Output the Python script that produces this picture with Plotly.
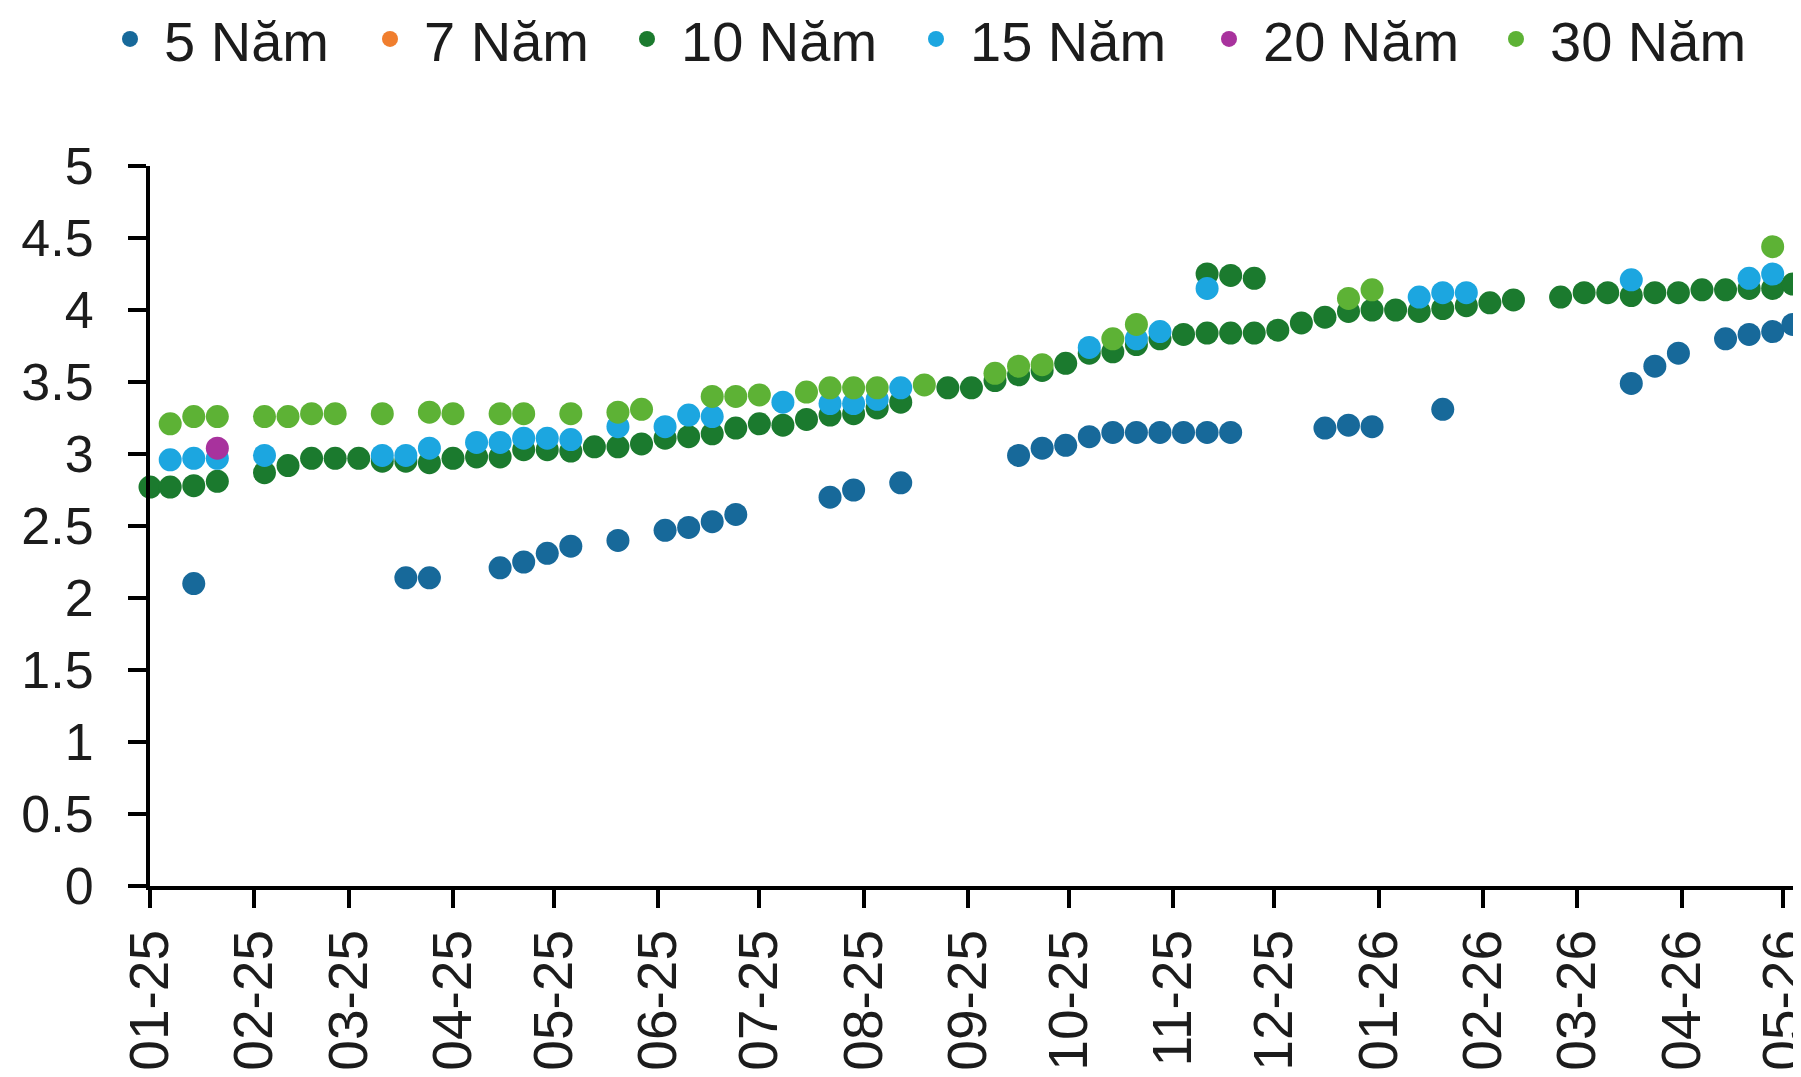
import plotly.graph_objects as go

dates = [
    "2025-01-01", "2025-01-07", "2025-01-14", "2025-01-21", "2025-01-28", "2025-02-04",
    "2025-02-11", "2025-02-18", "2025-02-25", "2025-03-04", "2025-03-11", "2025-03-18",
    "2025-03-25", "2025-04-01", "2025-04-08", "2025-04-15", "2025-04-22", "2025-04-29",
    "2025-05-06", "2025-05-13", "2025-05-20", "2025-05-27", "2025-06-03", "2025-06-10",
    "2025-06-17", "2025-06-24", "2025-07-01", "2025-07-08", "2025-07-15", "2025-07-22",
    "2025-07-29", "2025-08-05", "2025-08-12", "2025-08-19", "2025-08-26", "2025-09-02",
    "2025-09-09", "2025-09-16", "2025-09-23", "2025-09-30", "2025-10-07", "2025-10-14",
    "2025-10-21", "2025-10-28", "2025-11-04", "2025-11-11", "2025-11-18", "2025-11-25",
    "2025-12-02", "2025-12-09", "2025-12-16", "2025-12-23", "2025-12-30", "2026-01-06",
    "2026-01-13", "2026-01-20", "2026-01-27", "2026-02-03", "2026-02-10", "2026-02-17",
    "2026-02-24", "2026-03-03", "2026-03-10", "2026-03-17", "2026-03-24", "2026-03-31",
    "2026-04-07", "2026-04-14", "2026-04-21", "2026-04-28", "2026-05-04",
]

N = None
yield_5y = [
    N, N, 2.10, N, N, N, N, N, N, N, N, 2.14,
    2.14, N, N, 2.21, 2.25, 2.31, 2.36, N, 2.40, N, 2.47, 2.49,
    2.53, 2.58, N, N, N, 2.70, 2.75, N, 2.80, N, N, N,
    N, 2.99, 3.04, 3.06, 3.12, 3.15, 3.15, 3.15, 3.15, 3.15, 3.15, N,
    N, N, 3.18, 3.20, 3.19, N, N, 3.31, N, N, N, N,
    N, N, N, 3.49, 3.61, 3.70, N, 3.80, 3.83, 3.85, 3.90,
]
yield_7y = []
yield_10y = [
    2.77, 2.77, 2.78, 2.81, N, 2.87, 2.92, 2.97, 2.97, 2.97, 2.95, 2.95,
    2.94, 2.97, 2.98, 2.98, 3.03, 3.03, 3.02, 3.05, 3.05, 3.07, 3.11, 3.12,
    3.14, 3.18, 3.21, 3.20, 3.24, 3.27, 3.28, 3.32, 3.36, N, 3.46, 3.46,
    3.51, 3.55, 3.58, 3.63, 3.70, 3.71, 3.76, 3.80, 3.83, 3.84, 3.84, 3.84,
    3.86, 3.91, 3.95, 3.99, 4.00, 4.00, 3.99, 4.01, 4.03, 4.05, 4.07, N,
    4.09, 4.12, 4.12, 4.10, 4.12, 4.12, 4.14, 4.14, 4.15, 4.15, 4.18,
]
# second 10-year quotes in the same weeks
dates_10y_b = ["2025-11-11", "2025-11-18", "2025-11-25"]
yield_10y_b = [4.25, 4.24, 4.22]
yield_15y = [
    N, 2.96, 2.97, 2.97, N, 2.99, N, N, N, N, 2.99, 2.99,
    3.04, N, 3.08, 3.08, 3.11, 3.11, 3.10, N, 3.19, N, 3.19, 3.27,
    3.26, N, N, 3.36, N, 3.35, 3.35, 3.38, 3.46, N, N, N,
    N, N, N, N, 3.74, N, 3.80, 3.85, N, 4.15, N, N,
    N, N, N, N, N, N, 4.09, 4.12, 4.12, N, N, N,
    N, N, N, 4.21, N, N, N, N, 4.22, 4.25, N,
]
yield_20y = [N, N, N, 3.04] + [N] * 67
yield_30y = [
    N, 3.21, 3.26, 3.26, N, 3.26, 3.26, 3.28, 3.28, N, 3.28, N,
    3.29, 3.28, N, 3.28, 3.28, N, 3.28, N, 3.29, 3.31, N, N,
    3.40, 3.40, 3.41, N, 3.43, 3.46, 3.46, 3.46, N, 3.48, N, N,
    3.56, 3.61, 3.62, N, N, 3.80, 3.90, N, N, N, N, N,
    N, N, N, 4.08, 4.14, N, N, N, N, N, N, N,
    N, N, N, N, N, N, N, N, N, 4.44, N,
]

series_names = ["5 Năm", "7 Năm", "10 Năm", "15 Năm", "20 Năm", "30 Năm"]
colors = ["#17699A", "#F07E2E", "#1B7A2E", "#1CA6E0", "#A8329D", "#5DB235"]

tick_vals = ["2025-01-01", "2025-02-01", "2025-03-01", "2025-04-01", "2025-05-01",
             "2025-06-01", "2025-07-01", "2025-08-01", "2025-09-01", "2025-10-01",
             "2025-11-01", "2025-12-01", "2026-01-01", "2026-02-01", "2026-03-01",
             "2026-04-01", "2026-05-01"]
tick_text = ["01-25", "02-25", "03-25", "04-25", "05-25", "06-25", "07-25", "08-25",
             "09-25", "10-25", "11-25", "12-25", "01-26", "02-26", "03-26", "04-26", "05-26"]
y_ticks = [0, 0.5, 1, 1.5, 2, 2.5, 3, 3.5, 4, 4.5, 5]

FONT = "Liberation Sans, Arial, sans-serif"
TXT = "#1c1c1c"

# figure geometry (the page body adds an 8 px margin)
W, H = 1793, 1069
ML, MT, PW, PH = 142, 158, 1644, 720

# legend entry positions (figure px, left edge of each entry)
legend_left_px = [88, 348, 605, 894, 1187, 1474]
legend_mid_px = 31

fig = go.Figure()

def add(i, xs, ys):
    fig.add_trace(go.Scatter(
        x=xs, y=ys, name=series_names[i], mode="markers",
        marker=dict(size=23, color=colors[i], line=dict(width=0)),
        cliponaxis=False,
        legend="legend" if i == 0 else f"legend{i + 1}",
    ))

add(0, dates, yield_5y)
add(1, dates if yield_7y else [None], yield_7y if yield_7y else [None])
add(2, dates + dates_10y_b, yield_10y + yield_10y_b)
add(3, dates, yield_15y)
add(4, dates, yield_20y)
add(5, dates, yield_30y)

legend_style = dict(
    orientation="h", xanchor="left", yanchor="middle",
    y=(MT + PH - legend_mid_px) / PH,
    font=dict(family=FONT, size=56, color=TXT),
    itemwidth=58, bgcolor="rgba(0,0,0,0)", borderwidth=0,
)
legends = {}
for i, px in enumerate(legend_left_px):
    key = "legend" if i == 0 else f"legend{i + 1}"
    legends[key] = dict(legend_style, x=(px - ML) / PW)

fig.update_layout(
    width=W, height=H, autosize=False,
    margin=dict(l=ML, r=W - ML - PW, t=MT, b=H - MT - PH, pad=0, autoexpand=False),
    plot_bgcolor="white", paper_bgcolor="white",
    font=dict(family=FONT, size=52, color=TXT),
    showlegend=True,
    xaxis=dict(
        type="date", range=["2025-01-01", "2026-05-04 08:00"],
        tickmode="array", tickvals=tick_vals, ticktext=tick_text,
        tickangle=-90, ticks="outside", ticklen=18, tickwidth=4, tickcolor="black",
        showline=True, linewidth=4, linecolor="black",
        showgrid=False, zeroline=False, automargin=False,
        tickfont=dict(family=FONT, size=55, color=TXT),
        ticklabelstandoff=0, ticklabeloverflow="allow",
    ),
    yaxis=dict(
        range=[0, 5], tickmode="array", tickvals=y_ticks,
        ticks="outside", ticklen=18, tickwidth=4, tickcolor="black",
        showline=True, linewidth=4, linecolor="black",
        showgrid=False, zeroline=False, automargin=False,
        tickfont=dict(family=FONT, size=52, color=TXT),
        ticklabelstandoff=24,
    ),
    **legends,
)

fig.write_html("out.html")
